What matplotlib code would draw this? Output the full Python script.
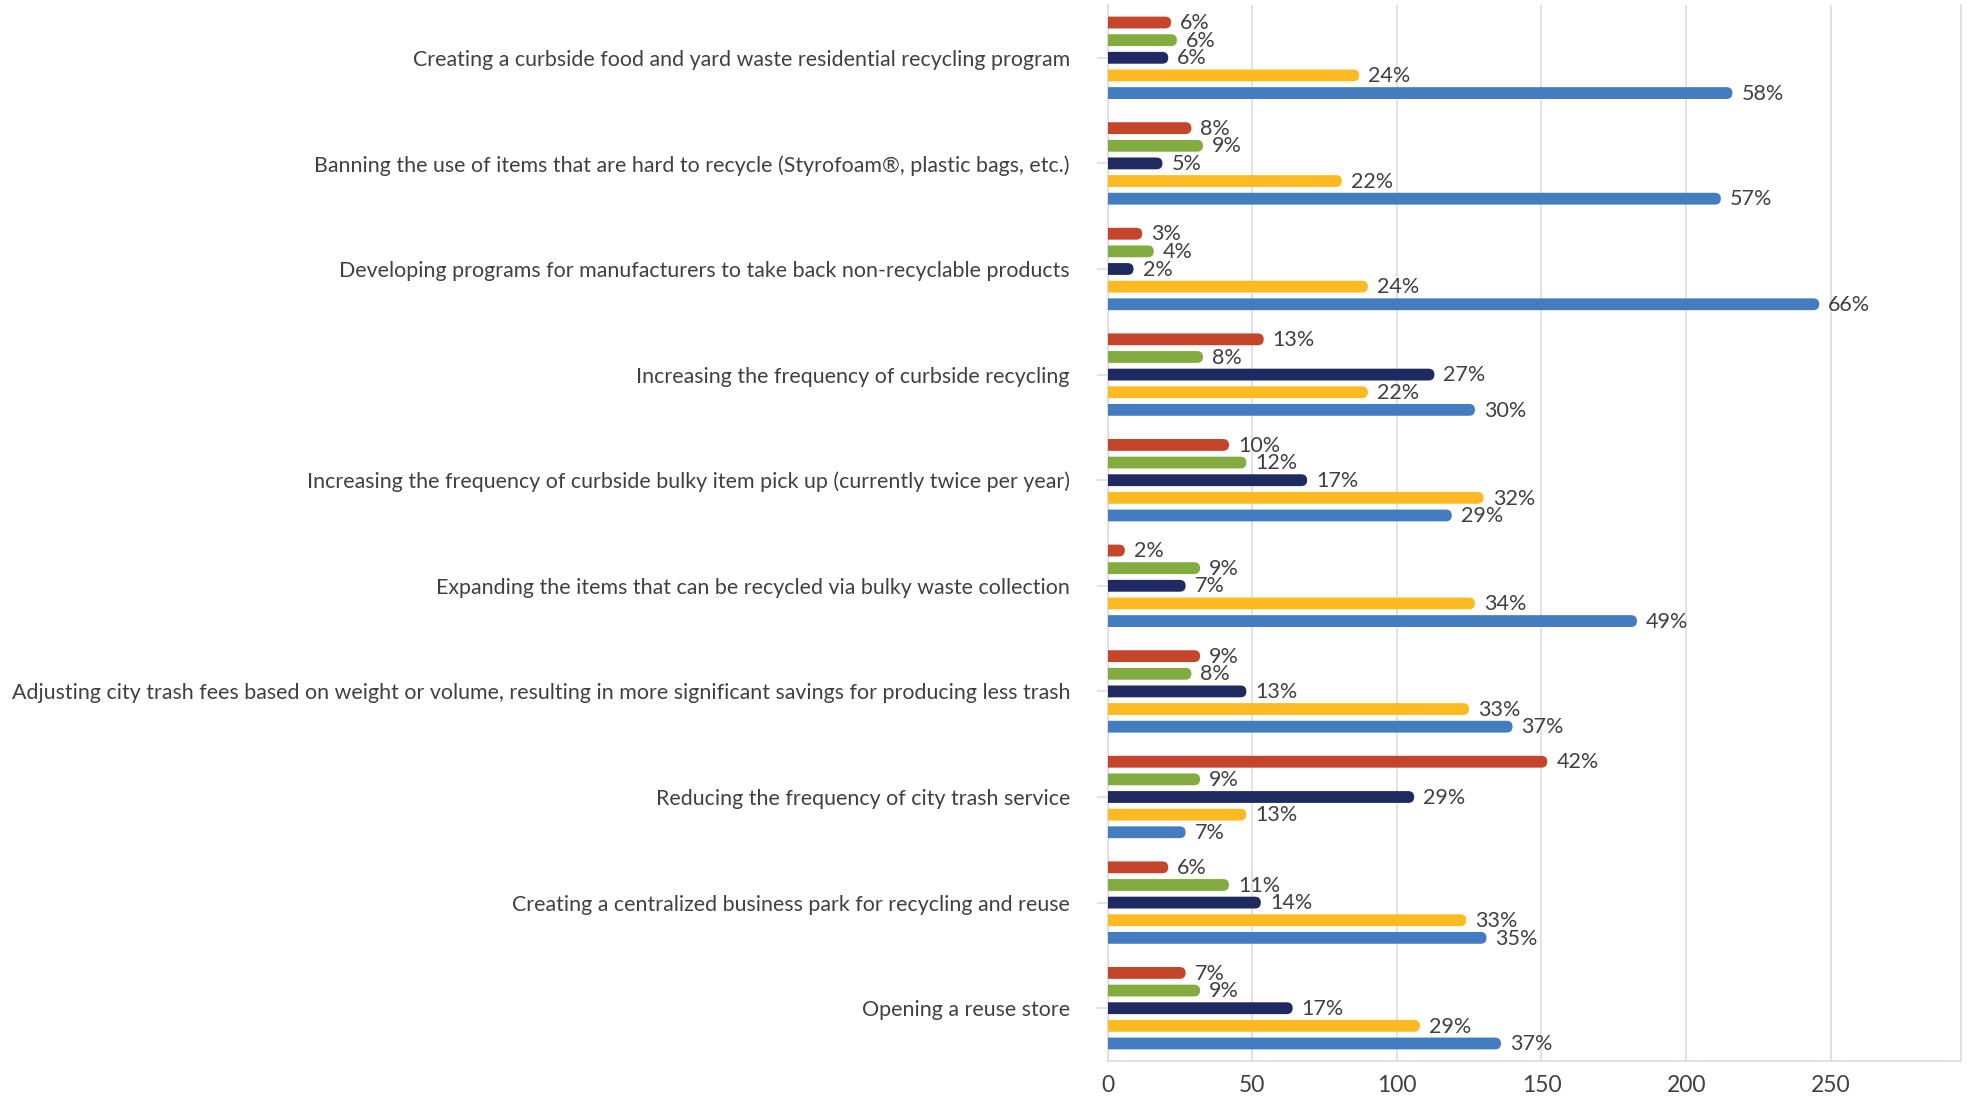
import matplotlib
matplotlib.use("Agg")
import matplotlib.pyplot as plt
from matplotlib.patches import FancyBboxPatch
import numpy as np

plt.rcParams['font.family'] = ['Lato', 'DejaVu Sans']

categories = [
    "Creating a curbside food and yard waste residential recycling program",
    "Banning the use of items that are hard to recycle (Styrofoam®, plastic bags, etc.)",
    "Developing programs for manufacturers to take back non-recyclable products",
    "Increasing the frequency of curbside recycling",
    "Increasing the frequency of curbside bulky item pick up (currently twice per year)",
    "Expanding the items that can be recycled via bulky waste collection",
    "Adjusting city trash fees based on weight or volume, resulting in more significant savings for producing less trash",
    "Reducing the frequency of city trash service",
    "Creating a centralized business park for recycling and reuse",
    "Opening a reuse store",
]

series_names = ["Strongly oppose", "Somewhat oppose", "Neutral", "Somewhat support", "Strongly support"]
series_colors = ["#C4452A", "#82AC3F", "#1F2A60", "#FDBB21", "#437DC0"]

# response counts per option (bar length)
strongly_oppose = [22, 29, 12, 54, 42, 6, 32, 152, 21, 27]
somewhat_oppose = [24, 33, 16, 33, 48, 32, 29, 32, 42, 32]
neutral = [21, 19, 9, 113, 69, 27, 48, 106, 53, 64]
somewhat_support = [87, 81, 90, 90, 130, 127, 125, 48, 124, 108]
strongly_support = [216, 212, 246, 127, 119, 183, 140, 27, 131, 136]

# share of responses per option (bar labels)
pct_strongly_oppose = [6, 8, 3, 13, 10, 2, 9, 42, 6, 7]
pct_somewhat_oppose = [6, 9, 4, 8, 12, 9, 8, 9, 11, 9]
pct_neutral = [6, 5, 2, 27, 17, 7, 13, 29, 14, 17]
pct_somewhat_support = [24, 22, 24, 22, 32, 34, 33, 13, 33, 29]
pct_strongly_support = [58, 57, 66, 30, 29, 49, 37, 7, 35, 37]

x_ticks = [0, 50, 100, 150, 200, 250]

counts = [strongly_oppose, somewhat_oppose, neutral, somewhat_support, strongly_support]
pcts = [pct_strongly_oppose, pct_somewhat_oppose, pct_neutral, pct_somewhat_support, pct_strongly_support]

W, H = 1971, 1097
fig = plt.figure(figsize=(W / 100, H / 100), dpi=100)
ax_left, ax_right, ax_top, ax_bottom = 1107.5, 1961, 5, 1061
ax = fig.add_axes([ax_left / W, (H - ax_bottom) / H, (ax_right - ax_left) / W, (ax_bottom - ax_top) / H])

xmax = 295
n_cat = len(categories)
ax.set_xlim(0, xmax)
ax.set_ylim(n_cat - 0.5, -0.5)

step = 0.167
bar_h = 0.112
y_base = np.arange(n_cat)

# pixel -> data scale factors for round caps
px_x = xmax / (ax_right - ax_left)
px_y = n_cat / (ax_bottom - ax_top)
aspect = px_y / px_x
r = (bar_h / 2) / aspect

text_color = "#404040"
for k, (vals, labels, color) in enumerate(zip(counts, pcts, series_colors)):
    ys = y_base + (k - 2) * step
    bars = ax.barh(ys, vals, height=bar_h, color=color, alpha=0)
    for rect, v, lab in zip(bars, vals, labels):
        y0 = rect.get_y()
        p = FancyBboxPatch((-r, y0), v + r, bar_h,
                           boxstyle=f"round,pad=0,rounding_size={r}",
                           mutation_aspect=aspect, facecolor=color,
                           edgecolor="none", zorder=3, clip_on=True)
        ax.add_patch(p)
        ax.annotate(f"{lab}%", xy=(v, y0 + bar_h / 2), xytext=(6.5, -0.5),
                    textcoords="offset points", va="center", ha="left",
                    fontsize=15.5, color=text_color)

grid_color = "#DCDCE8"
ax.set_xticks(x_ticks)
ax.xaxis.grid(True, color=grid_color, linewidth=1.2, zorder=0)
ax.set_axisbelow(True)
ax.set_yticks(y_base)
ax.set_yticklabels(categories, fontsize=15.4, color=text_color)
ax.tick_params(axis='y', length=8, width=1.2, color=grid_color, pad=19)
ax.tick_params(axis='x', length=0, pad=10, labelsize=16.5, labelcolor=text_color)
for s in ["left", "bottom", "right"]:
    ax.spines[s].set_color(grid_color)
    ax.spines[s].set_linewidth(1.2)
ax.spines["top"].set_visible(False)

fig.savefig("out.png", dpi=100, facecolor="white")
